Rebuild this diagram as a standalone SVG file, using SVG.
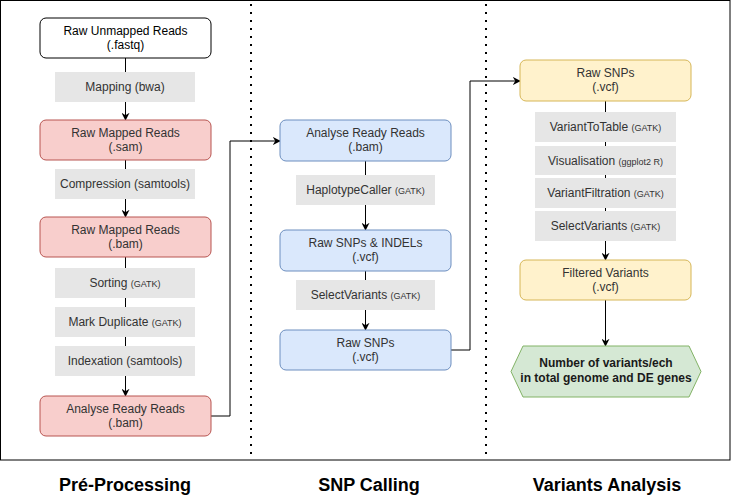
<svg xmlns="http://www.w3.org/2000/svg" width="731" height="502" viewBox="0 0 731 502">
<style>
text{font-family:"Liberation Sans",Arial,Helvetica,sans-serif;font-size:12px;fill:#333;text-anchor:middle}
.node{stroke-width:1}
.white{fill:#fff;stroke:#000}
.red{fill:#f8cecc;stroke:#b85450}
.blue{fill:#dae8fc;stroke:#6c8ebf}
.yellow{fill:#fff2cc;stroke:#d6b656}
.green{fill:#d5e8d4;stroke:#82b366}
.lbl{fill:#e6e6e6;stroke:none}
.sm{font-size:9px}
.edge{fill:none;stroke:#000;stroke-width:1}
.sep{stroke:#000;stroke-width:2;stroke-dasharray:2 6;fill:none}
.title{font-size:18px;font-weight:bold;fill:#000}
.bold{font-weight:bold;fill:#1a1a1a}
</style>
<defs>
<marker id="arr" viewBox="0 0 10 10" refX="9" refY="5" markerWidth="8" markerHeight="8" markerUnits="userSpaceOnUse" orient="auto">
<path d="M0,0 L10,5 L0,10 L3,5 Z" fill="#000"/>
</marker>
</defs>
<rect x="0.5" y="0.5" width="729.5" height="459.5" fill="#fff" stroke="#000" stroke-width="1"/>
<g id="separators">
<line class="sep" x1="251" y1="4" x2="251" y2="460"/>
<line class="sep" x1="486" y1="4" x2="486" y2="460"/>
</g>
<g id="connectors">
<line class="edge" x1="125.5" y1="58" x2="125.5" y2="120" marker-end="url(#arr)"/>
<line class="edge" x1="125.5" y1="160" x2="125.5" y2="217" marker-end="url(#arr)"/>
<line class="edge" x1="125.5" y1="257" x2="125.5" y2="396" marker-end="url(#arr)"/>
<polyline class="edge" points="211,416 230,416 230,141 280,141" marker-end="url(#arr)"/>
<line class="edge" x1="365.5" y1="161" x2="365.5" y2="230" marker-end="url(#arr)"/>
<line class="edge" x1="365.5" y1="271" x2="365.5" y2="330" marker-end="url(#arr)"/>
<polyline class="edge" points="451,350 470,350 470,81 520,81" marker-end="url(#arr)"/>
<line class="edge" x1="605.5" y1="101" x2="605.5" y2="260" marker-end="url(#arr)"/>
<line class="edge" x1="605.5" y1="300" x2="605.5" y2="346" marker-end="url(#arr)"/>
</g>
<g id="n-raw-unmapped"><rect class="node white" x="40" y="18" width="171" height="40" rx="6"/><text x="125.5" y="35" style="fill:#000">Raw Unmapped Reads</text><text x="125.5" y="49" style="fill:#000">(.fastq)</text></g>
<g id="l-mapping"><rect class="lbl" x="55" y="72" width="140" height="30"/><text x="125" y="91">Mapping (bwa)</text></g>
<g id="n-raw-sam"><rect class="node red" x="40" y="120" width="171" height="40" rx="6"/><text x="125.5" y="137">Raw Mapped Reads</text><text x="125.5" y="151">(.sam)</text></g>
<g id="l-compression"><rect class="lbl" x="55" y="169" width="140" height="30"/><text x="125" y="188">Compression (samtools)</text></g>
<g id="n-raw-bam"><rect class="node red" x="40" y="217" width="171" height="40" rx="6"/><text x="125.5" y="234">Raw Mapped Reads</text><text x="125.5" y="248">(.bam)</text></g>
<g id="l-sorting"><rect class="lbl" x="55" y="268" width="140" height="30"/><text x="125" y="287">Sorting <tspan class="sm">(GATK)</tspan></text></g>
<g id="l-markdup"><rect class="lbl" x="55" y="307" width="140" height="30"/><text x="125" y="326">Mark Duplicate <tspan class="sm">(GATK)</tspan></text></g>
<g id="l-indexation"><rect class="lbl" x="55" y="346" width="140" height="30"/><text x="125" y="365">Indexation (samtools)</text></g>
<g id="n-analyse-red"><rect class="node red" x="40" y="396" width="171" height="40" rx="6"/><text x="125.5" y="413">Analyse Ready Reads</text><text x="125.5" y="427">(.bam)</text></g>

<g id="n-analyse-blue"><rect class="node blue" x="280" y="120" width="171" height="41" rx="6"/><text x="365.5" y="137">Analyse Ready Reads</text><text x="365.5" y="151">(.bam)</text></g>
<g id="l-haplotype"><rect class="lbl" x="296" y="175" width="139" height="30"/><text x="365.5" y="194">HaplotypeCaller <tspan class="sm">(GATK)</tspan></text></g>
<g id="n-snps-indels"><rect class="node blue" x="280" y="230" width="171" height="41" rx="6"/><text x="365.5" y="247">Raw SNPs &amp; INDELs</text><text x="365.5" y="261">(.vcf)</text></g>
<g id="l-select1"><rect class="lbl" x="296" y="280" width="139" height="30"/><text x="365.5" y="299">SelectVariants <tspan class="sm">(GATK)</tspan></text></g>
<g id="n-snps-blue"><rect class="node blue" x="280" y="330" width="171" height="40" rx="6"/><text x="365.5" y="347">Raw SNPs</text><text x="365.5" y="361">(.vcf)</text></g>

<g id="n-snps-yellow"><rect class="node yellow" x="520" y="60" width="171" height="41" rx="6"/><text x="605.5" y="77">Raw SNPs</text><text x="605.5" y="91">(.vcf)</text></g>
<g id="l-var2table"><rect class="lbl" x="535" y="112" width="141" height="30"/><text x="605.5" y="131">VariantToTable <tspan class="sm">(GATK)</tspan></text></g>
<g id="l-visual"><rect class="lbl" x="535" y="146" width="141" height="29"/><text x="605.5" y="164.5">Visualisation <tspan class="sm">(ggplot2 R)</tspan></text></g>
<g id="l-varfilt"><rect class="lbl" x="535" y="178" width="141" height="30"/><text x="605.5" y="197">VariantFiltration <tspan class="sm">(GATK)</tspan></text></g>
<g id="l-select2"><rect class="lbl" x="535" y="211" width="141" height="30"/><text x="605.5" y="230">SelectVariants <tspan class="sm">(GATK)</tspan></text></g>
<g id="n-filtered"><rect class="node yellow" x="520" y="260" width="171" height="40" rx="6"/><text x="605.5" y="277">Filtered Variants</text><text x="605.5" y="291">(.vcf)</text></g>
<g id="n-number"><polygon class="node green" points="511,371.5 523,346 689,346 701,371.5 689,397 523,397"/><text class="bold" x="606" y="366.5">Number of variants/ech</text><text class="bold" x="606" y="381.5">in total genome and DE genes</text></g>

<g id="titles">
<text class="title" x="125" y="491">Pré-Processing</text>
<text class="title" x="369" y="491">SNP Calling</text>
<text class="title" x="607" y="491">Variants Analysis</text>
</g>
</svg>
